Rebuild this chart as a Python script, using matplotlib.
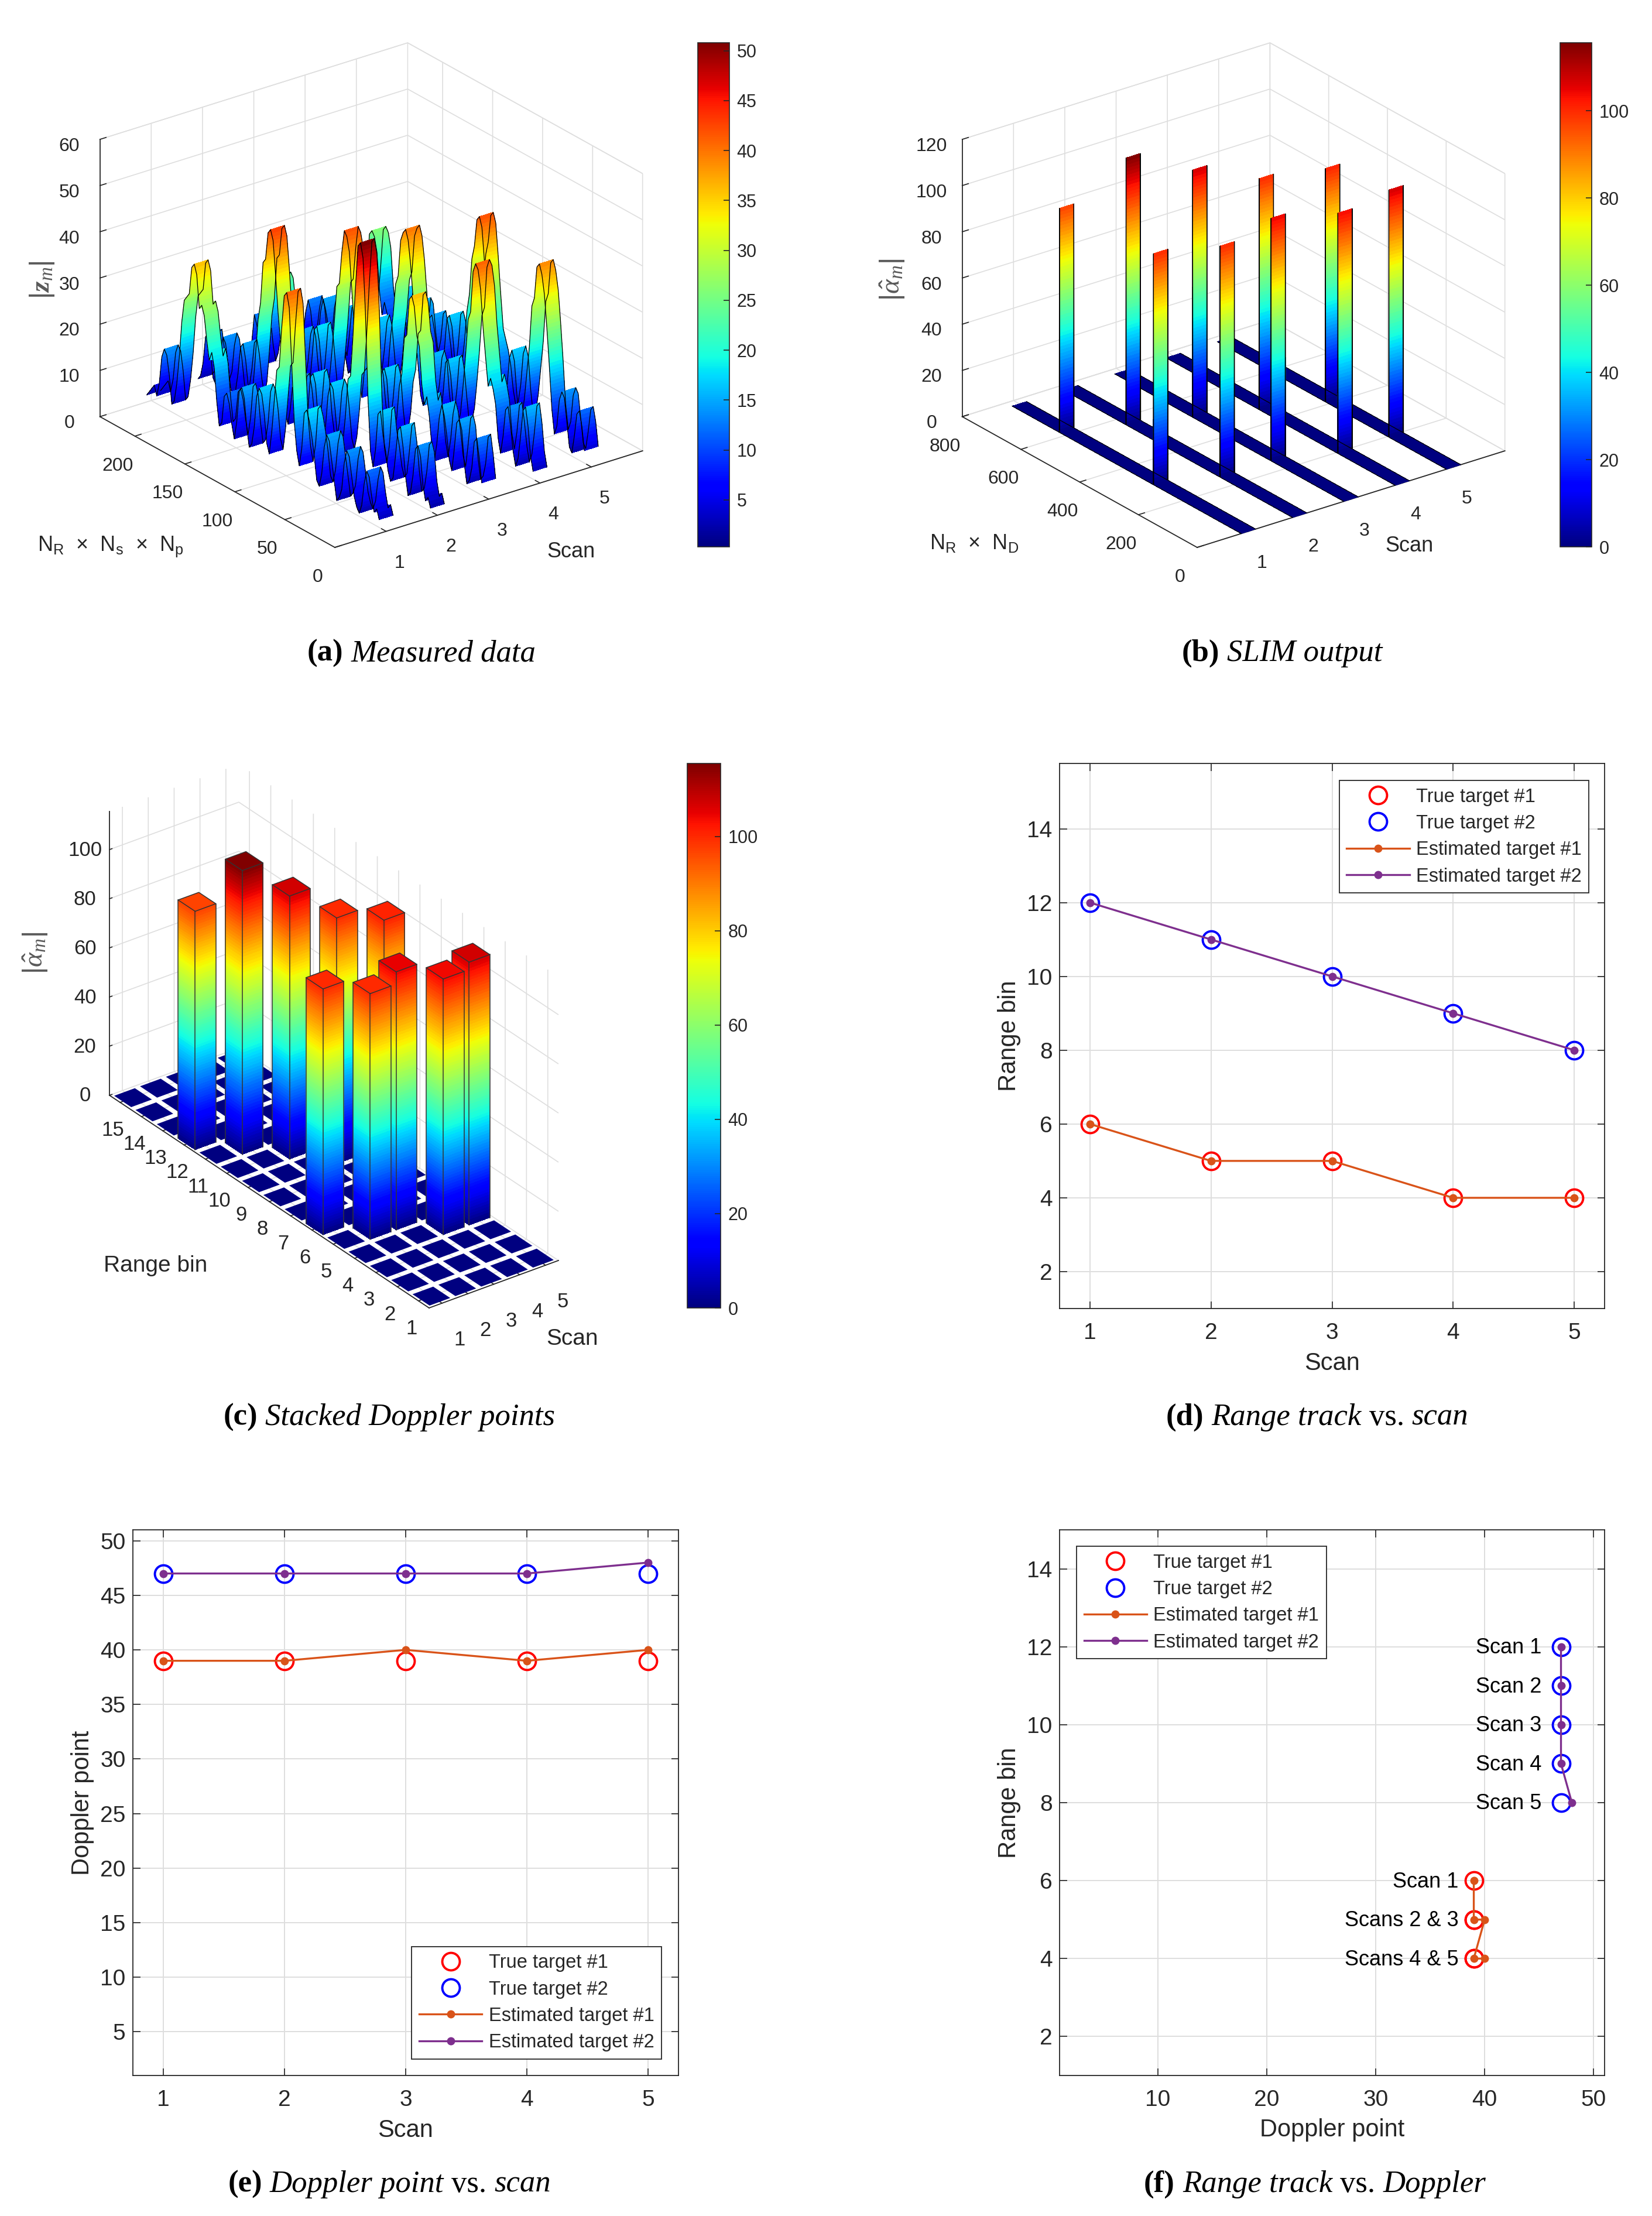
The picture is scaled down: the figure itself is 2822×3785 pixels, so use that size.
import numpy as np
import matplotlib
matplotlib.use("Agg")
import matplotlib.pyplot as plt
from matplotlib.cm import ScalarMappable
from matplotlib.colors import Normalize
from matplotlib.transforms import Affine2D
from mpl_toolkits.mplot3d import proj3d

W, H = 2822, 3785
DARK = (0.15, 0.15, 0.15)
GRID = (0.87, 0.87, 0.87)
ORANGE = "#D95319"
PURPLE = "#7E2F8E"

plt.rcParams["font.family"] = ["Liberation Sans", "DejaVu Sans"]
plt.rcParams["mathtext.fontset"] = "custom"
plt.rcParams["mathtext.rm"] = "Liberation Sans"
plt.rcParams["mathtext.it"] = "Liberation Serif:italic"
plt.rcParams["mathtext.bf"] = "Liberation Serif:italic:bold"

# panel a, |z_m| per scan, one sample every 2.5 units
z_scan1 = [3, 5, 4, 7, 11, 12, 9, 4, 2, 3, 5, 9, 13, 14, 11, 5, 3, 2, 6, 10,
           14, 15, 12, 6, 3, 4, 9, 13, 16, 18, 17, 9, 5, 8, 14, 26, 38, 41, 40, 33,
           24, 23, 16, 9, 4, 6, 12, 16, 17, 15, 8, 4, 3, 7, 13, 15, 14, 7, 3, 6,
           10, 12, 11, 5, 4, 9, 16, 19, 17, 21, 26, 28, 27, 34, 36, 35, 29, 28, 27, 22,
           14, 8, 4, 3, 9, 13, 14, 12, 6, 3, 5, 4, 3, 2]
z_scan2 = [2, 4, 3, 6, 12, 14, 13, 7, 3, 2, 6, 12, 16, 15, 9, 4, 3, 5, 9, 12,
           17, 16, 8, 4, 7, 18, 36, 48, 51, 50, 41, 30, 21, 20, 12, 6, 3, 5, 11, 16,
           17, 14, 7, 3, 4, 8, 15, 17, 16, 9, 4, 3, 6, 11, 14, 13, 7, 3, 5, 13,
           20, 26, 34, 41, 43, 42, 36, 35, 26, 22, 14, 7, 4, 7, 12, 15, 14, 8, 4, 2,
           4, 9, 13, 14, 11, 5, 3, 4, 9, 13, 12, 6, 3, 2]
z_scan3 = [4, 9, 13, 12, 6, 3, 2, 6, 13, 15, 14, 8, 3, 5, 10, 14, 16, 13, 7, 3,
           6, 12, 16, 14, 18, 26, 28, 34, 36, 35, 27, 26, 18, 15, 8, 4, 3, 8, 15, 17,
           16, 9, 4, 3, 7, 13, 15, 14, 8, 12, 16, 22, 30, 38, 41, 42, 37, 30, 29, 21,
           14, 8, 4, 3, 9, 15, 18, 17, 10, 4, 3, 7, 13, 15, 13, 7, 3, 5, 10, 15,
           18, 23, 24, 23, 17, 13, 9, 5, 3, 6, 11, 13, 7, 4]
z_scan4 = [3, 6, 12, 16, 15, 9, 4, 2, 5, 10, 14, 13, 7, 3, 6, 13, 16, 18, 16, 22,
           28, 36, 40, 41, 39, 30, 28, 20, 13, 7, 4, 3, 8, 14, 17, 16, 9, 4, 3, 7,
           14, 16, 14, 8, 4, 6, 12, 18, 26, 33, 38, 40, 39, 37, 29, 27, 20, 15, 8, 4,
           3, 9, 15, 17, 15, 9, 4, 3, 7, 14, 16, 13, 6, 3, 2, 5, 12, 15, 14, 8,
           3, 5, 10, 13, 15, 12, 6, 3, 6, 11, 13, 10, 5, 3]
z_scan5 = [4, 9, 12, 11, 6, 2, 3, 8, 13, 14, 12, 6, 4, 9, 18, 26, 33, 37, 39, 38,
           31, 29, 20, 14, 8, 4, 3, 8, 15, 17, 15, 8, 4, 3, 6, 11, 14, 16, 18, 25,
           33, 40, 42, 41, 35, 32, 24, 20, 13, 8, 4, 3, 9, 15, 17, 16, 9, 4, 3, 8,
           12, 15, 14, 8, 5, 9, 15, 16, 10, 5, 3, 8, 14, 17, 16, 11, 5, 3, 6, 10,
           12, 9, 14, 22, 25, 26, 25, 17, 10, 4, 3, 8, 13, 9]
measured = [z_scan1, z_scan2, z_scan3, z_scan4, z_scan5]

# panel b and c, SLIM peaks
scans = [1, 2, 3, 4, 5]
true_range_1 = [6, 5, 5, 4, 4]
true_range_2 = [12, 11, 10, 9, 8]
true_doppler_1 = [39, 39, 39, 39, 39]
true_doppler_2 = [47, 47, 47, 47, 47]
est_range_1 = [6, 5, 5, 4, 4]
est_range_2 = [12, 11, 10, 9, 8]
est_doppler_1 = [39, 39, 40, 39, 40]
est_doppler_2 = [47, 47, 47, 47, 48]
peak_1 = [100, 100, 105, 104, 107]
peak_2 = [97, 115.5, 107, 100, 101]

legend_labels = ["True target #1", "True target #2", "Estimated target #1", "Estimated target #2"]
scan_notes_2 = ["Scan 1", "Scan 2", "Scan 3", "Scan 4", "Scan 5"]
scan_notes_1 = ["Scan 1", "Scans 2 & 3", "Scans 4 & 5"]
note_range_1 = [6, 5, 4]

fig = plt.figure(figsize=(W / 100, H / 100), dpi=100, facecolor="white")
jet = plt.get_cmap("jet")


def rect(x0, y0, x1, y1):
    return [x0 / W, 1 - y1 / H, (x1 - x0) / W, (y1 - y0) / H]


def box3d(limits, elev, theta, aspect, front, span_px, tick_size=23):
    """3D axes whose front corner and left to right span land on given pixels."""
    ax = fig.add_axes([0, 0, 1000 / W, 1000 / H], projection="3d", computed_zorder=False)
    ax.set_proj_type("ortho")
    ax.view_init(elev=elev, azim=-90 - theta)
    ax.set_box_aspect(aspect)
    (x0, x1), (y0, y1), (z0, z1) = limits
    ax.set_xlim(x0, x1)
    ax.set_ylim(y0, y1)
    ax.set_zlim(z0, z1)
    ax.set_facecolor("none")
    ax.apply_aspect()

    def disp(x, y):
        px, py, _ = proj3d.proj_transform(x, y, z0, ax.get_proj())
        return ax.transData.transform((px, py))

    f = disp(x0, y0)
    span = disp(x1, y0)[0] - disp(x0, y1)[0]
    k = span_px / span
    side = 1000 * k
    left = front[0] - k * f[0]
    bottom = (H - front[1]) - k * f[1]
    ax.set_position([left / W, bottom / H, side / W, side / H])

    for axis in (ax.xaxis, ax.yaxis, ax.zaxis):
        axis.set_pane_color((1, 1, 1, 1))
        axis.pane.set_edgecolor(GRID)
        axis.line.set_color(DARK)
        axis.line.set_linewidth(1.3)
        axis._axinfo["grid"].update(color=GRID, linewidth=1.2)
        axis._axinfo["tick"].update(inward_factor=0.0, outward_factor=0.25)
        axis._axinfo["tick"]["linewidth"] = {True: 1.2, False: 1.0}
        axis._axinfo["tick"]["color"] = DARK
    ax.tick_params(labelsize=tick_size, colors=DARK, pad=14)
    return ax


def shift_labels(ax, axis, dx, dy):
    # mplot3d puts labels a bit off from where MATLAB has them, dx dy in pixels
    for tick in axis.get_major_ticks():
        tick.label1.set_transform(ax.transData + Affine2D().translate(dx, dy))


def ribbon(ax, scan, y, z, norm, width, order, step):
    """One ribbon strip, the mesh is only split finer so that walls get a colour ramp."""
    y = np.asarray(y, float)
    z = np.asarray(z, float)
    ys, zs = [y[0]], [z[0]]
    for i in range(len(y) - 1):
        n = int(abs(z[i + 1] - z[i]) / step) + 1
        for j in range(1, n + 1):
            ys.append(y[i] + (y[i + 1] - y[i]) * j / n)
            zs.append(z[i] + (z[i + 1] - z[i]) * j / n)
    ys, zs = np.array(ys), np.array(zs)
    X = np.array([np.full_like(ys, scan - width / 2), np.full_like(ys, scan + width / 2)])
    Y = np.array([ys, ys])
    Z = np.array([zs, zs])
    cols = jet(norm((zs[:-1] + zs[1:]) / 2))
    cols = np.stack([cols, cols])
    cols = np.concatenate([cols, cols[:, -1:]], axis=1)
    ax.plot_surface(X, Y, Z, facecolors=cols, rstride=1, cstride=1, shade=False,
                    linewidth=0, antialiased=False, zorder=order)
    ax.plot(X[0], Y[0], Z[0], color="k", lw=0.9, zorder=order + 0.5)
    ax.plot(X[1], Y[1], Z[1], color="k", lw=0.9, zorder=order + 0.5)


def bar_cell(ax, x, y, h, norm, half, order):
    x0, x1, y0, y1 = x - half, x + half, y - half, y + half
    top = jet(norm(h))
    if h > 0:
        lv = np.linspace(0, h, 90)
        cols = jet(norm((lv[:-1] + lv[1:]) / 2))[None, :, :]
        cols = np.concatenate([cols, cols[:, -1:]], axis=1)
        cols = np.concatenate([cols, cols], axis=0)
        # the two sides that face the camera
        ax.plot_surface(np.array([[x0] * len(lv), [x1] * len(lv)]),
                        np.array([[y0] * len(lv), [y0] * len(lv)]),
                        np.array([lv, lv]), facecolors=cols, rstride=1, cstride=1,
                        shade=False, linewidth=0, antialiased=False, zorder=order)
        ax.plot_surface(np.array([[x0] * len(lv), [x0] * len(lv)]),
                        np.array([[y0] * len(lv), [y1] * len(lv)]),
                        np.array([lv, lv]), facecolors=cols, rstride=1, cstride=1,
                        shade=False, linewidth=0, antialiased=False, zorder=order)
    ax.plot_surface(np.array([[x0, x1], [x0, x1]]), np.array([[y0, y0], [y1, y1]]),
                    np.array([[h, h], [h, h]]), color=top, shade=False, linewidth=0,
                    antialiased=True, zorder=order + 0.1)
    if h > 0:
        edge = dict(color=(0.2, 0.2, 0.2), lw=1.1, zorder=order + 0.2)
        ax.plot([x0, x0], [y0, y0], [0, h], **edge)
        ax.plot([x1, x1], [y0, y0], [0, h], **edge)
        ax.plot([x0, x0], [y1, y1], [0, h], **edge)
        ax.plot([x0, x1, x1, x0, x0], [y0, y0, y1, y1, y0], [h] * 5, **edge)


def colorbar(box, vmin, vmax, ticks):
    cax = fig.add_axes(rect(*box))
    cb = fig.colorbar(ScalarMappable(Normalize(vmin, vmax), cmap=jet), cax=cax, ticks=ticks)
    cb.ax.tick_params(labelsize=22, colors=DARK, direction="in", length=7, width=1.2, pad=9)
    cb.outline.set_edgecolor(DARK)
    cb.outline.set_linewidth(1.2)


# panel a
ax_a = box3d(((0, 6), (0, 235), (0, 60)), 24.7, 36.9, (657, 668, 521), (572, 935), 927)
norm_a = Normalize(0.3, 50.8)
for i in range(len(measured) - 1, -1, -1):
    ribbon(ax_a, scans[i], 2.5 * np.arange(len(measured[i])), measured[i], norm_a, 0.27, 10 * (5 - i), 0.8)
ax_a.set_xticks(scans)
ax_a.set_yticks([0, 50, 100, 150, 200])
ax_a.set_zticks([0, 10, 20, 30, 40, 50, 60])
shift_labels(ax_a, ax_a.xaxis, 10, 15)
shift_labels(ax_a, ax_a.yaxis, -10, 12)
shift_labels(ax_a, ax_a.zaxis, 5, 17)
colorbar((1192, 73, 1246, 934), 0.3, 50.8, [5, 10, 15, 20, 25, 30, 35, 40, 45, 50])
fig.text(72 / W, 1 - 478 / H, r"$|\mathbf{z}_{\mathit{m}}|$", rotation=90, fontsize=34, color=(0.35, 0.35, 0.35),
         ha="center", va="center")
fig.text(64 / W, 1 - 934 / H, r"$\mathrm{N_R}$  ×  $\mathrm{N_s}$  ×  $\mathrm{N_p}$", fontsize=26,
         color=DARK, va="center")
fig.text(976 / W, 1 - 943 / H, "Scan", fontsize=26, color=DARK, ha="center", va="center")

# panel b
ax_b = box3d(((0, 6), (0, 800), (0, 120)), 24.7, 36.9, (657, 668, 521), (2045, 935), 927)
norm_b = Normalize(0, 115.6)
for i in range(4, -1, -1):
    spots = sorted([((est_range_1[i] - 1) * 52 + est_doppler_1[i], peak_1[i]),
                    ((est_range_2[i] - 1) * 52 + est_doppler_2[i], peak_2[i])])
    y, z = [0], [0]
    for pos, val in spots:
        y += [pos - 1, pos, pos + 1]
        z += [0, val, 0]
    y.append(780)
    z.append(0)
    ribbon(ax_b, scans[i], y, z, norm_b, 0.28, 10 * (5 - i), 1.5)
ax_b.set_xticks(scans)
ax_b.set_yticks([0, 200, 400, 600, 800])
ax_b.set_zticks([0, 20, 40, 60, 80, 100, 120])
shift_labels(ax_b, ax_b.xaxis, 10, 15)
shift_labels(ax_b, ax_b.yaxis, -24, 14)
shift_labels(ax_b, ax_b.zaxis, 3, 15)
colorbar((2665, 73, 2719, 934), 0, 115.6, [0, 20, 40, 60, 80, 100])
fig.text(1525 / W, 1 - 478 / H, r"$|\hat{\alpha}_{\mathit{m}}|$", rotation=90, fontsize=34,
         color=(0.35, 0.35, 0.35), ha="center", va="center")
fig.text(1588 / W, 1 - 928 / H, r"$\mathrm{N_R}$  ×  $\mathrm{N_D}$", fontsize=26, color=DARK, va="center")
fig.text(2408 / W, 1 - 932 / H, "Scan", fontsize=26, color=DARK, ha="center", va="center")

# panel c
ax_c = box3d(((0.5, 5.5), (0.5, 15.5), (0, 115.5)), 29.6, 36.6, (275, 915, 557), (733, 2234), 767, tick_size=25)
norm_c = Normalize(0, 115.5)
heights = {}
for i in range(5):
    heights[(scans[i], true_range_1[i])] = peak_1[i]
    heights[(scans[i], true_range_2[i])] = peak_2[i]
order = 1
for sy in range(15, 0, -1):
    for sx in range(5, 0, -1):
        bar_cell(ax_c, sx, sy, heights.get((sx, sy), 0), norm_c, 0.4, order)
        order += 1
ax_c.set_xticks(scans)
ax_c.set_yticks(range(1, 16))
ax_c.set_zticks([0, 20, 40, 60, 80, 100])
shift_labels(ax_c, ax_c.xaxis, 13, 11)
shift_labels(ax_c, ax_c.yaxis, -30, 5)
shift_labels(ax_c, ax_c.zaxis, -22, 5)
for axis in (ax_c.xaxis, ax_c.yaxis, ax_c.zaxis):
    axis.pane.set_edgecolor("none")
colorbar((1174, 1304, 1231, 2234), 0, 115.5, [0, 20, 40, 60, 80, 100])
fig.text(61 / W, 1 - 1628 / H, r"$|\hat{\alpha}_{\mathit{m}}|$", rotation=90, fontsize=34,
         color=(0.35, 0.35, 0.35), ha="center", va="center")
fig.text(266 / W, 1 - 2162 / H, "Range bin", fontsize=28, color=DARK, ha="center", va="center")
fig.text(977 / W, 1 - 2287 / H, "Scan", fontsize=28, color=DARK, ha="center", va="center")


def track_axes(box, xlim, ylim, xticks, yticks, xlabel, ylabel):
    ax = fig.add_axes(rect(*box))
    ax.set_xlim(*xlim)
    ax.set_ylim(*ylim)
    ax.set_xticks(xticks)
    ax.set_yticks(yticks)
    ax.grid(True, color=GRID, lw=1.4)
    ax.set_axisbelow(True)
    ax.tick_params(labelsize=28, colors=DARK, direction="in", length=9, width=1.2, top=True, right=True, pad=9)
    ax.tick_params(axis="x", pad=17)
    for s in ax.spines.values():
        s.set_color(DARK)
        s.set_linewidth(1.3)
    ax.set_xlabel(xlabel, fontsize=30, color=DARK, labelpad=10)
    ax.set_ylabel(ylabel, fontsize=30, color=DARK, labelpad=7)
    return ax


def tracks(ax, true_x1, true_y1, true_x2, true_y2, est_x1, est_y1, est_x2, est_y2):
    ring = dict(ls="none", marker="o", mfc="none", ms=21.5, mew=2.8)
    dot = dict(marker="o", ms=9, lw=2.4)
    ax.plot(true_x1, true_y1, mec="r", label=legend_labels[0], **ring)
    ax.plot(true_x2, true_y2, mec="b", label=legend_labels[1], **ring)
    ax.plot(est_x1, est_y1, color=ORANGE, label=legend_labels[2], **dot)
    ax.plot(est_x2, est_y2, color=PURPLE, label=legend_labels[3], **dot)


def legend(ax, loc, anchor):
    leg = ax.legend(loc=loc, bbox_to_anchor=anchor, borderaxespad=0, fontsize=23.5, handlelength=3.3,
                    labelspacing=0.44, borderpad=0.38, handletextpad=0.34, fancybox=False,
                    framealpha=1, edgecolor=DARK, labelcolor=DARK)
    leg.get_frame().set_linewidth(1.3)


# panel d
ax_d = track_axes((1810, 1304, 2741, 2235), (0.75, 5.25), (1, 15.77), scans, range(2, 15, 2), "Scan", "Range bin")
tracks(ax_d, scans, true_range_1, scans, true_range_2, scans, est_range_1, scans, est_range_2)
legend(ax_d, "upper left", (0.513, 0.9687))

# panel e
ax_e = track_axes((227, 2613, 1159, 3545), (0.75, 5.25), (1, 51), scans, range(5, 51, 5), "Scan", "Doppler point")
tracks(ax_e, scans, true_doppler_1, scans, true_doppler_2, scans, est_doppler_1, scans, est_doppler_2)
legend(ax_e, "lower right", (0.9687, 0.0304))

# panel f
ax_f = track_axes((1810, 2613, 2741, 3545), (1, 51), (1, 15), [10, 20, 30, 40, 50], range(2, 15, 2),
                  "Doppler point", "Range bin")
tracks(ax_f, true_doppler_1, true_range_1, true_doppler_2, true_range_2,
       est_doppler_1, est_range_1, est_doppler_2, est_range_2)
legend(ax_f, "upper left", (0.0313, 0.9696))
for note, r in zip(scan_notes_2, true_range_2):
    ax_f.text(45.2, r - 0.03, note, fontsize=26, color="k", ha="right", va="center")
for note, r in zip(scan_notes_1, note_range_1):
    ax_f.text(37.6, r - 0.03, note, fontsize=26, color="k", ha="right", va="center")

# captions
captions = [
    (720, 1116, "(a)", "Measured data", ""),
    (2190, 1116, "(b)", "SLIM output", ""),
    (665, 2421, "(c)", "Stacked Doppler points", ""),
    (2250, 2421, "(d)", "Range track", "vs.|scan"),
    (665, 3731, "(e)", "Doppler point", "vs.|scan"),
    (2246, 3731, "(f)", "Range track", "vs.|Doppler"),
]
renderer = fig.canvas.get_renderer()
for cx, cy, tag, main, tail in captions:
    pieces = [(tag, "normal", "bold"), (main, "italic", "normal")]
    if tail:
        vs, last = tail.split("|")
        pieces += [(vs, "normal", "normal"), (last, "italic", "normal")]
    items = [fig.text(0, 1 - cy / H, t, family="Liberation Serif", style=st, weight=wt, fontsize=38,
                      color="k", va="center") for t, st, wt in pieces]
    gap = 13
    widths = [it.get_window_extent(renderer).width for it in items]
    x = cx - (sum(widths) + gap * (len(items) - 1)) / 2
    for it, w in zip(items, widths):
        it.set_x(x / W)
        x += w + gap

fig.savefig("out.png", dpi=100, facecolor="white")
